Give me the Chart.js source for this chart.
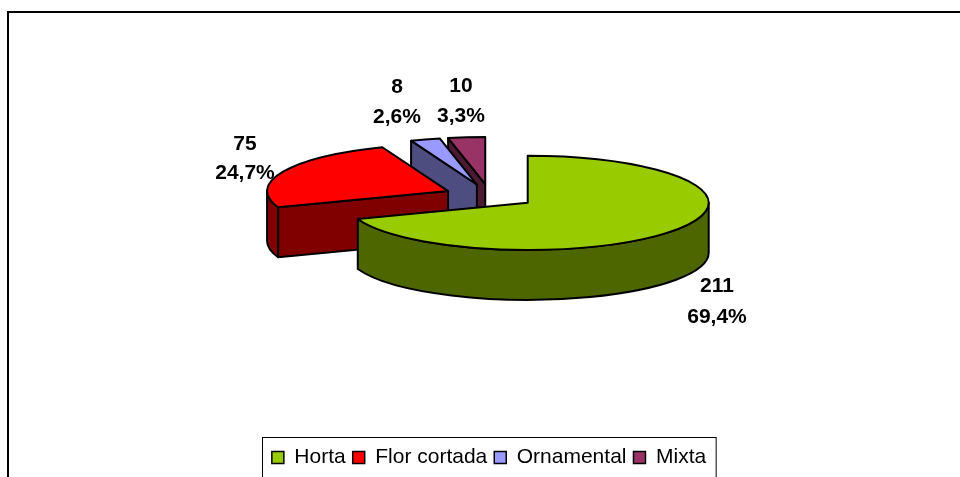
<!DOCTYPE html>
<html>
<head>
<meta charset="utf-8">
<title>Horta</title>
<script src="https://cdn.jsdelivr.net/npm/chart.js@4"></script>
<style>
  html, body { margin: 0; padding: 0; background: #fff; overflow: hidden; }
  canvas { display: block; }
</style>
</head>
<body>
<canvas id="pieChart" width="960" height="477"></canvas>
<script>
const categories = ['Horta', 'Flor cortada', 'Ornamental', 'Mixta'];
const values = [211, 75, 8, 10];
const topColors = ['#99CC00', '#FF0000', '#9999FF', '#993366'];
const sideColors = ['#4D6600', '#800000', '#4D4D80', '#4D1A33'];
// centre of each value label: [x, y of count, y of percent]
const labelPlaces = [[717, 286, 317], [245, 144, 173], [397, 87, 117], [461, 86, 116]];

const pieX = 490;
const pieY = 196;
const tilt = 0.26;      // vertical squash of the disc
const depth = 50;       // height of the disc
const explode = 46;     // how far slices move out from the centre

const total = values.reduce((a, b) => a + b, 0);

function drawSlice(ctx, arc, i) {
  const a0 = arc.startAngle;
  const a1 = arc.endAngle;
  const r = arc.outerRadius;
  const mid = (a0 + a1) / 2;
  const ox = pieX + Math.cos(mid) * explode;
  const oy = pieY + Math.sin(mid) * explode * tilt;
  const rimX = a => ox + Math.cos(a) * r;
  const rimY = a => oy + Math.sin(a) * r * tilt;

  ctx.lineWidth = 2;
  ctx.lineJoin = 'round';
  ctx.strokeStyle = '#000';
  ctx.fillStyle = sideColors[i];

  // cut faces, only the ones turned towards the viewer
  [[a0, Math.cos(a0) < -1e-6], [a1, Math.cos(a1) > 1e-6]].forEach(([a, visible]) => {
    if (!visible) return;
    ctx.beginPath();
    ctx.moveTo(ox, oy);
    ctx.lineTo(rimX(a), rimY(a));
    ctx.lineTo(rimX(a), rimY(a) + depth);
    ctx.lineTo(ox, oy + depth);
    ctx.closePath();
    ctx.fill();
    ctx.stroke();
  });

  // outer wall, the part of the rim at the front
  const from = Math.max(a0, 0);
  const to = Math.min(a1, Math.PI);
  if (to > from) {
    ctx.beginPath();
    ctx.ellipse(ox, oy, r, r * tilt, 0, from, to);
    ctx.ellipse(ox, oy + depth, r, r * tilt, 0, to, from, true);
    ctx.closePath();
    ctx.fill();
    ctx.stroke();
  }

  // top of the slice is the chart's own arc element, squashed
  ctx.save();
  ctx.translate(ox, oy);
  ctx.scale(1, tilt);
  ctx.translate(-arc.x, -arc.y);
  arc.draw(ctx);
  ctx.restore();

  ctx.beginPath();
  ctx.moveTo(ox, oy);
  ctx.ellipse(ox, oy, r, r * tilt, 0, a0, a1);
  ctx.closePath();
  ctx.stroke();
}

const tiltedPie = {
  id: 'tiltedPie',
  beforeDraw(chart) {
    const ctx = chart.ctx;
    ctx.save();
    ctx.strokeStyle = '#000';
    ctx.lineWidth = 2;
    ctx.beginPath();
    ctx.moveTo(8, 477);
    ctx.lineTo(8, 12);
    ctx.lineTo(960, 12);
    ctx.stroke();
    ctx.restore();
  },
  beforeDatasetsDraw(chart) {
    const ctx = chart.ctx;
    const arcs = chart.getDatasetMeta(0).data;
    ctx.save();
    ctx.fillStyle = '#000';
    ctx.font = 'bold 21px "Liberation Sans"';
    ctx.textAlign = 'center';
    ctx.textBaseline = 'middle';
    values.forEach((v, i) => {
      const pct = (v / total * 100).toFixed(1).replace('.', ',') + '%';
      ctx.fillText(String(v), labelPlaces[i][0], labelPlaces[i][1]);
      ctx.fillText(pct, labelPlaces[i][0], labelPlaces[i][2]);
    });
    for (let i = arcs.length - 1; i >= 0; i--) {
      drawSlice(ctx, arcs[i], i);
    }
    ctx.restore();
    return false;
  },
  afterDraw(chart) {
    const ctx = chart.ctx;
    const boxes = chart.legend.legendHitBoxes;
    const last = boxes[boxes.length - 1];
    ctx.save();
    ctx.strokeStyle = '#000';
    ctx.lineWidth = 1;
    ctx.strokeRect(262.5, 437.5, last.left + last.width + 10 - 262.5, 60);
    ctx.restore();
  }
};

new Chart(document.getElementById('pieChart'), {
  type: 'pie',
  data: {
    labels: categories,
    datasets: [{
      data: values,
      backgroundColor: topColors,
      borderWidth: 0,
      radius: 181
    }]
  },
  options: {
    responsive: false,
    animation: false,
    layout: { padding: { left: 18, bottom: -1 } },
    plugins: {
      tooltip: { enabled: false },
      legend: {
        position: 'bottom',
        labels: {
          color: '#000',
          font: { family: '"Liberation Sans"', size: 21 },
          boxWidth: 12,
          boxHeight: 12,
          padding: 7,
          generateLabels: chart => categories.map((name, i) => ({
            text: name,
            fillStyle: topColors[i],
            strokeStyle: '#000',
            lineWidth: 1.5,
            index: i
          }))
        }
      }
    }
  },
  plugins: [tiltedPie]
});
</script>
</body>
</html>
